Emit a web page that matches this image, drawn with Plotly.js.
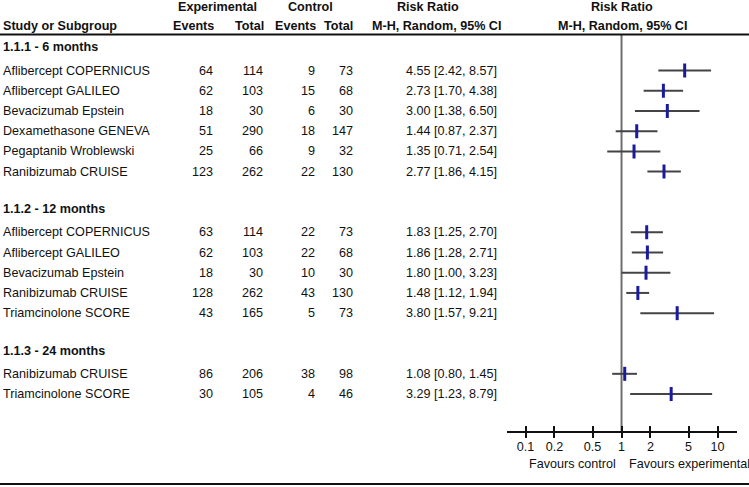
<!DOCTYPE html>
<html>
<head>
<meta charset="utf-8">
<script src="https://cdn.plot.ly/plotly-3.0.1.min.js"></script>
<style>html,body{margin:0;padding:0;background:#fff;}#chart{width:749px;height:487px;}</style>
</head>
<body>
<div id="chart"></div>
<script>
// ---------- data ----------
const groupNames = ['1.1.1 - 6 months', '1.1.2 - 12 months', '1.1.3 - 24 months'];
const studyNames = ['Aflibercept COPERNICUS', 'Aflibercept GALILEO', 'Bevacizumab Epstein', 'Dexamethasone GENEVA', 'Pegaptanib Wroblewski', 'Ranibizumab CRUISE',
  'Aflibercept COPERNICUS', 'Aflibercept GALILEO', 'Bevacizumab Epstein', 'Ranibizumab CRUISE', 'Triamcinolone SCORE',
  'Ranibizumab CRUISE', 'Triamcinolone SCORE'];
const studyGroup = [0, 0, 0, 0, 0, 0, 1, 1, 1, 1, 1, 2, 2];
const expEvents = [64, 62, 18, 51, 25, 123, 63, 62, 18, 128, 43, 86, 30];
const expTotal = [114, 103, 30, 290, 66, 262, 114, 103, 30, 262, 165, 206, 105];
const ctlEvents = [9, 15, 6, 18, 9, 22, 22, 22, 10, 43, 5, 38, 4];
const ctlTotal = [73, 68, 30, 147, 32, 130, 73, 68, 30, 130, 73, 98, 46];
const riskRatio = [4.55, 2.73, 3.00, 1.44, 1.35, 2.77, 1.83, 1.86, 1.80, 1.48, 3.80, 1.08, 3.29];
const ciLow = [2.42, 1.70, 1.38, 0.87, 0.71, 1.86, 1.25, 1.28, 1.00, 1.12, 1.57, 0.80, 1.23];
const ciHigh = [8.57, 4.38, 6.50, 2.37, 2.54, 4.15, 2.70, 2.71, 3.23, 1.94, 9.21, 1.45, 8.79];
const tickVals = [0.1, 0.2, 0.5, 1, 2, 5, 10];
const tickText = ['0.1', '0.2', '0.5', '1', '2', '5', '10'];
const favoursLeft = 'Favours control';
const favoursRight = 'Favours experimental';

// ---------- layout constants (pixels) ----------
const W = 749, H = 487;
const rowBase = 50.3, rowH = 20.22, headOff = -3;
const topLine = 34.5, axisY = 431, bottomLine = 484;
const font = {family: 'Liberation Sans, Arial, Helvetica, sans-serif', size: 12.6, color: '#111'};
const bold = Object.assign({}, font, {weight: 'bold'});

// row indices: heading, studies, blank row between groups
const studyY = [], headY = [];
let idx = 0;
groupNames.forEach((g, gi) => {
  headY.push(rowBase + idx * rowH + headOff);
  idx++;
  studyGroup.forEach((sg, si) => { if (sg === gi) { studyY[si] = rowBase + idx * rowH; idx++; } });
  idx++;
});

const ann = [];
function txt(x, y, text, anchor, f) {
  ann.push({xref: 'x', yref: 'y', x: x, y: y, text: text, showarrow: false,
    xanchor: anchor, yanchor: 'middle', font: f || font, borderpad: 0});
}
// header
txt(217, 7, 'Experimental', 'center', bold);
txt(310, 7, 'Control', 'center', bold);
txt(428, 7, 'Risk Ratio', 'center', bold);
txt(622, 7, 'Risk Ratio', 'center', bold);
txt(2, 26, 'Study or Subgroup', 'left', bold);
txt(215, 26, 'Events', 'right', bold);
txt(265, 26, 'Total', 'right', bold);
txt(317, 26, 'Events', 'right', bold);
txt(354, 26, 'Total', 'right', bold);
txt(436, 26, 'M-H, Random, 95% CI', 'center', bold);
txt(622, 26, 'M-H, Random, 95% CI', 'center', bold);
groupNames.forEach((g, gi) => txt(2, headY[gi], g, 'left', bold));
studyNames.forEach((s, i) => {
  const y = studyY[i];
  txt(2, y, s, 'left');
  txt(214, y, String(expEvents[i]), 'right');
  txt(264, y, String(expTotal[i]), 'right');
  txt(316, y, String(ctlEvents[i]), 'right');
  txt(354, y, String(ctlTotal[i]), 'right');
  txt(498, y, riskRatio[i].toFixed(2) + ' [' + ciLow[i].toFixed(2) + ', ' + ciHigh[i].toFixed(2) + ']', 'right');
});
// favours labels (log axis: annotation x in log10 units)
ann.push({xref: 'x2', yref: 'y', x: 0, y: 463.5, xshift: -5, text: favoursLeft, showarrow: false, xanchor: 'right', yanchor: 'middle', font: font, borderpad: 0});
ann.push({xref: 'x2', yref: 'y', x: 0, y: 463.5, xshift: 6, text: favoursRight, showarrow: false, xanchor: 'left', yanchor: 'middle', font: font, borderpad: 0});

// ---------- traces ----------
const ciX = [], ciY = [];
riskRatio.forEach((r, i) => { ciX.push(ciLow[i], ciHigh[i], null); ciY.push(studyY[i], studyY[i], null); });
const traces = [
  {type: 'scatter', mode: 'lines', xaxis: 'x2', yaxis: 'y2', x: [1, 1], y: [topLine, axisY],
   line: {color: '#6e6e6e', width: 2}, hoverinfo: 'skip'},
  {type: 'scatter', mode: 'lines', xaxis: 'x2', yaxis: 'y2', x: ciX, y: ciY,
   line: {color: '#444', width: 2}, hoverinfo: 'skip'},
  {type: 'scatter', mode: 'markers', xaxis: 'x2', yaxis: 'y2', x: riskRatio, y: studyY,
   marker: {symbol: 'line-ns', size: 10, line: {color: '#1a1a9e', width: 3}}, hoverinfo: 'skip'}
];

const logLo = -1.193, logHi = 1.203;
const d0 = 507 / W, d1 = 737 / W;
const layout = {
  width: W, height: H, margin: {l: 0, r: 0, t: 0, b: 0},
  paper_bgcolor: '#fff', plot_bgcolor: 'rgba(0,0,0,0)', showlegend: false, font: font,
  xaxis: {domain: [0, 1], range: [0, W], visible: false, fixedrange: true},
  yaxis: {domain: [0, 1], range: [H, 0], visible: false, fixedrange: true},
  xaxis2: {type: 'log', domain: [d0, d1], range: [logLo, logHi], anchor: 'y2',
    showline: true, linecolor: '#111', linewidth: 2, showgrid: false, zeroline: false,
    tickmode: 'array', tickvals: tickVals, ticktext: tickText, ticks: 'outside', ticklen: 5,
    tickwidth: 2, tickcolor: '#111', tickfont: font, ticklabelstandoff: -2},
  xaxis3: {type: 'log', domain: [d0, d1], range: [logLo, logHi], anchor: 'y2', overlaying: 'x2',
    showline: false, showgrid: false, zeroline: false, showticklabels: false,
    tickmode: 'array', tickvals: tickVals, ticks: 'inside', ticklen: 5, tickwidth: 2, tickcolor: '#111'},
  yaxis2: {domain: [(H - axisY) / H, (H - topLine) / H], range: [axisY, topLine], visible: false, anchor: 'x2'},
  annotations: ann,
  shapes: [
    {type: 'line', xref: 'paper', yref: 'y', x0: 0, x1: 1, y0: topLine, y1: topLine, line: {color: '#111', width: 2}},
    {type: 'line', xref: 'paper', yref: 'y', x0: 0, x1: 1, y0: bottomLine, y1: bottomLine, line: {color: '#111', width: 2}}
  ]
};
// invisible trace so the overlaying tick axis is drawn
traces.push({type: 'scatter', mode: 'markers', xaxis: 'x3', yaxis: 'y2', x: [1], y: [axisY], marker: {opacity: 0}, hoverinfo: 'skip'});

Plotly.newPlot('chart', traces, layout, {staticPlot: true, displayModeBar: false});
</script>
</body>
</html>
